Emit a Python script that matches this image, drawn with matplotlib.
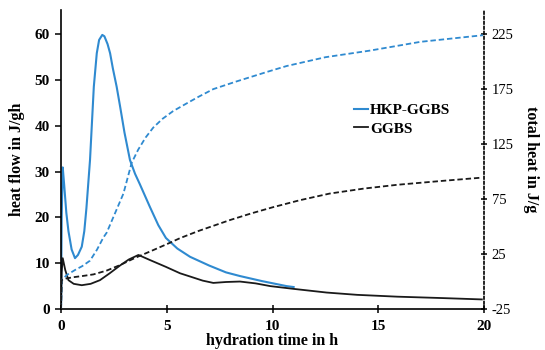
import matplotlib.pyplot as plt

# heat flow (J/gh), left axis
t_hkp = [0, 0.03, 0.08, 0.15, 0.25, 0.35, 0.5, 0.66, 0.8, 0.98, 1.1, 1.2, 1.37, 1.55, 1.69, 1.8, 1.95, 2.05, 2.2, 2.32, 2.45, 2.63, 2.8, 3.0, 3.26, 3.5, 3.73, 4.2, 4.6, 4.96, 5.5, 6.1, 7.0, 7.8, 8.46, 9.5, 10.67, 11.0]
q_hkp = [0, 20, 30.9, 27, 21, 17, 13, 11.1, 11.8, 13.6, 17, 22, 32.5, 48.5, 55.8, 58.7, 59.8, 59.5, 57.8, 55.8, 52.5, 48.5, 44, 38.5, 32.5, 29.5, 27.2, 22.3, 18.3, 15.5, 13.2, 11.4, 9.5, 8.0, 7.2, 6.1, 5.0, 4.8]

t_ggbs = [0, 0.03, 0.08, 0.2, 0.35, 0.6, 0.98, 1.4, 1.84, 2.3, 2.79, 3.2, 3.66, 4.2, 4.96, 5.63, 6.1, 6.7, 7.2, 7.8, 8.46, 9.2, 9.9, 11.0, 12.56, 14.0, 15.9, 18.0, 19.9]
q_ggbs = [0, 8, 11.1, 8.5, 6.3, 5.5, 5.2, 5.5, 6.3, 7.8, 9.5, 10.8, 11.8, 10.7, 9.2, 7.8, 7.1, 6.2, 5.7, 5.9, 6.0, 5.6, 5.0, 4.4, 3.6, 3.1, 2.7, 2.4, 2.1]

# total heat (J/g), right axis
t_cum = [0, 0.03, 0.27, 0.66, 1.0, 1.37, 1.7, 2.0, 2.16, 2.55, 2.95, 3.34, 3.65, 4.0, 4.36, 4.8, 5.3, 5.94, 6.5, 7.2, 8.3, 9.8, 10.67, 12.5, 14.6, 17.0, 19.95]
h_hkp = [-25, 1.4, 5.9, 10.5, 14, 19, 29, 40, 44.5, 62, 80, 108, 120, 131, 140, 148, 155, 162, 168, 175, 182, 191, 196, 204, 210, 218, 224]
t_cum2 = [0, 0.03, 0.27, 0.6, 1.0, 1.53, 2.16, 2.79, 3.5, 4.36, 5.0, 5.63, 6.5, 8.0, 9.0, 10.0, 11.3, 12.7, 14.3, 15.9, 18.0, 19.9]
h_ggbs = [-25, 1.4, 2.9, 4, 5, 6.5, 10, 15, 21.5, 28.6, 34, 39.5, 46, 56, 62, 67.5, 74, 80, 84.5, 88, 91.5, 94.5]

blue = "#2f8ad0"
black = "#1a1a1a"

plt.rcParams["font.family"] = ["Liberation Serif", "DejaVu Serif"]

fig = plt.figure(figsize=(5.45, 3.5), dpi=100)
ax = fig.add_axes([0.112, 0.117, 0.776, 0.854])
ax2 = ax.twinx()

ax.plot(t_hkp, q_hkp, color=blue, lw=1.5, label="HKP-GGBS")
ax.plot(t_ggbs, q_ggbs, color=black, lw=1.3, label="GGBS")
ax2.plot(t_cum, h_hkp, color=blue, lw=1.3, dashes=(3, 1.6))
ax2.plot(t_cum2, h_ggbs, color=black, lw=1.3, dashes=(3, 1.6))

ax.set_xlim(0, 20)
ax.set_ylim(0, 65.2)
ax2.set_ylim(-25, 246.8)
ax.set_xticks([0, 5, 10, 15, 20])
ax.set_yticks(range(0, 61, 10))
ax2.set_yticks(range(-25, 226, 50))

for a in (ax, ax2):
    a.spines["top"].set_visible(False)
ax.spines["right"].set_visible(False)
ax2.spines["left"].set_visible(False)
ax2.spines["bottom"].set_visible(False)
ax2.spines["right"].set_linestyle((0, (1.5, 1.5)))
ax2.spines["right"].set_linewidth(1.2)
ax.spines["left"].set_linewidth(1.2)
ax.spines["bottom"].set_linewidth(1.2)

ax.tick_params(axis="y", direction="out", length=4, width=1.1, labelsize=11, pad=4)
ax.tick_params(axis="x", direction="inout", length=6, width=1.1, labelsize=11, pad=5)
ax2.tick_params(axis="y", direction="inout", length=5, width=1.1, labelsize=10.5, pad=3)
for lab in ax.get_xticklabels() + ax.get_yticklabels():
    lab.set_fontweight("bold")
ax2.set_yticklabels([str(v) for v in range(-25, 226, 50)])

ax.set_xlabel("hydration time in h", fontsize=11.5, fontweight="bold", labelpad=0)
ax.set_ylabel("heat flow in J/gh", fontsize=11.5, fontweight="bold", labelpad=7)
ax2.set_ylabel("total heat in J/g", fontsize=11.5, fontweight="bold", rotation=270, labelpad=18)

leg = ax.legend(loc="upper left", bbox_to_anchor=(0.66, 0.733), frameon=False,
                handlelength=0.9, handletextpad=0.15, labelspacing=0.3,
                prop={"weight": "bold", "size": 11})

fig.savefig("out.png", dpi=100)
